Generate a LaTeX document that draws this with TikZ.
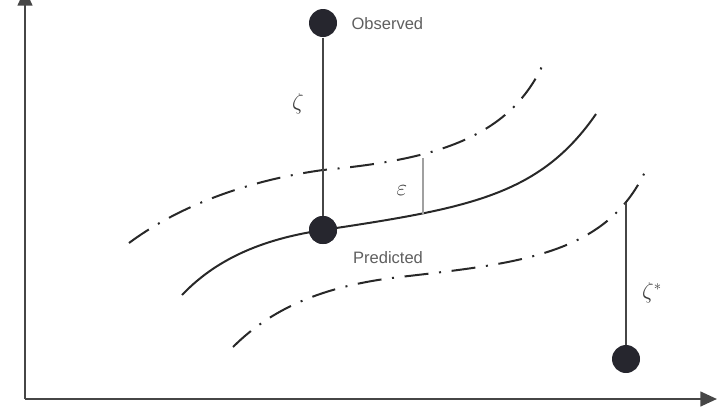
\documentclass[tikz,border=0pt]{standalone}
\usepackage{fontspec}
\setmainfont{Liberation Sans}
\usetikzlibrary{arrows.meta}

\definecolor{dotfill}{RGB}{38,38,46}
\definecolor{curvecol}{RGB}{40,40,40}
\definecolor{axiscol}{RGB}{70,70,70}
\definecolor{labelgray}{RGB}{95,95,95}
\definecolor{greekgray}{RGB}{60,60,60}

\tikzset{every picture/.style={line width=0.75pt},
  axis/.style={line width=1.8pt, color=axiscol, -{Triangle[length=12.5pt,width=11pt]}},
  dot/.style={circle, fill=dotfill, draw=none, minimum size=21pt, inner sep=0pt},
  curve/.style={line width=1.5pt, color=curvecol},
  band/.style={curve, dash pattern={on 18pt off 8pt on 1.5pt off 8pt}},
  zline/.style={line width=1.4pt, color=axiscol},
  epsline/.style={line width=1pt, color={rgb,255:red,160;green,160;blue,160}},
  txt/.style={inner sep=0.75pt, text=labelgray, font=\fontsize{12.4}{14}\selectfont},
  greek/.style={inner sep=0.75pt, text=greekgray, font=\fontsize{16}{18}\selectfont}
}

\begin{document}
\begin{tikzpicture}[x=0.75pt,y=0.75pt,yscale=-1,xscale=1]
\useasboundingbox (0,0) rectangle (717,408);

% Axes
\coordinate (origin) at (25,399);
\coordinate (ytip) at (25,-11);
\coordinate (xtip) at (717,399);
\draw [axis] (origin) -- (ytip);
\draw [axis] (origin) -- (xtip);

% Upper band
\draw [band] (129,243) .. controls (180,205) and (250,180) .. (323,170)
  .. controls (430,160) and (510,140) .. (544,62);
% Lower band
\draw [band] (233,347) .. controls (275,305) and (330,285) .. (400,277)
  .. controls (520,263) and (610,255) .. (648,165);
% Predicted curve
\draw [curve] (182,295) .. controls (220,255) and (270,238) .. (323,230)
  .. controls (470,208) and (540,195) .. (596,114);

% Points
\node [dot] (obs) at (323,23) {};
\node [dot] (pred) at (323,230) {};
\node [dot] (outl) at (626,359) {};
\coordinate (zstop) at (626,203);
\coordinate (epstop) at (423,158);
\coordinate (epsbot) at (423,214);

% Residuals
\draw [zline] (obs) -- (pred);
\draw [zline] (zstop) -- (outl);
\draw [epsline] (epstop) -- (epsbot);
\node [dot] at (pred) {};

% Text Node
\node [txt, anchor=west] (obslbl) at (350,24) {Observed};
% Text Node
\node [txt] (predlbl) at (388,258) {Predicted};
% Text Node
\node [greek] (zlbl) at (298,104) {$\zeta$};
% Text Node
\node [greek] (elbl) at (402,191) {$\varepsilon$};
% Text Node
\node [greek] (zslbl) at (652,293) {$\zeta^{*}$};

\end{tikzpicture}
\end{document}
